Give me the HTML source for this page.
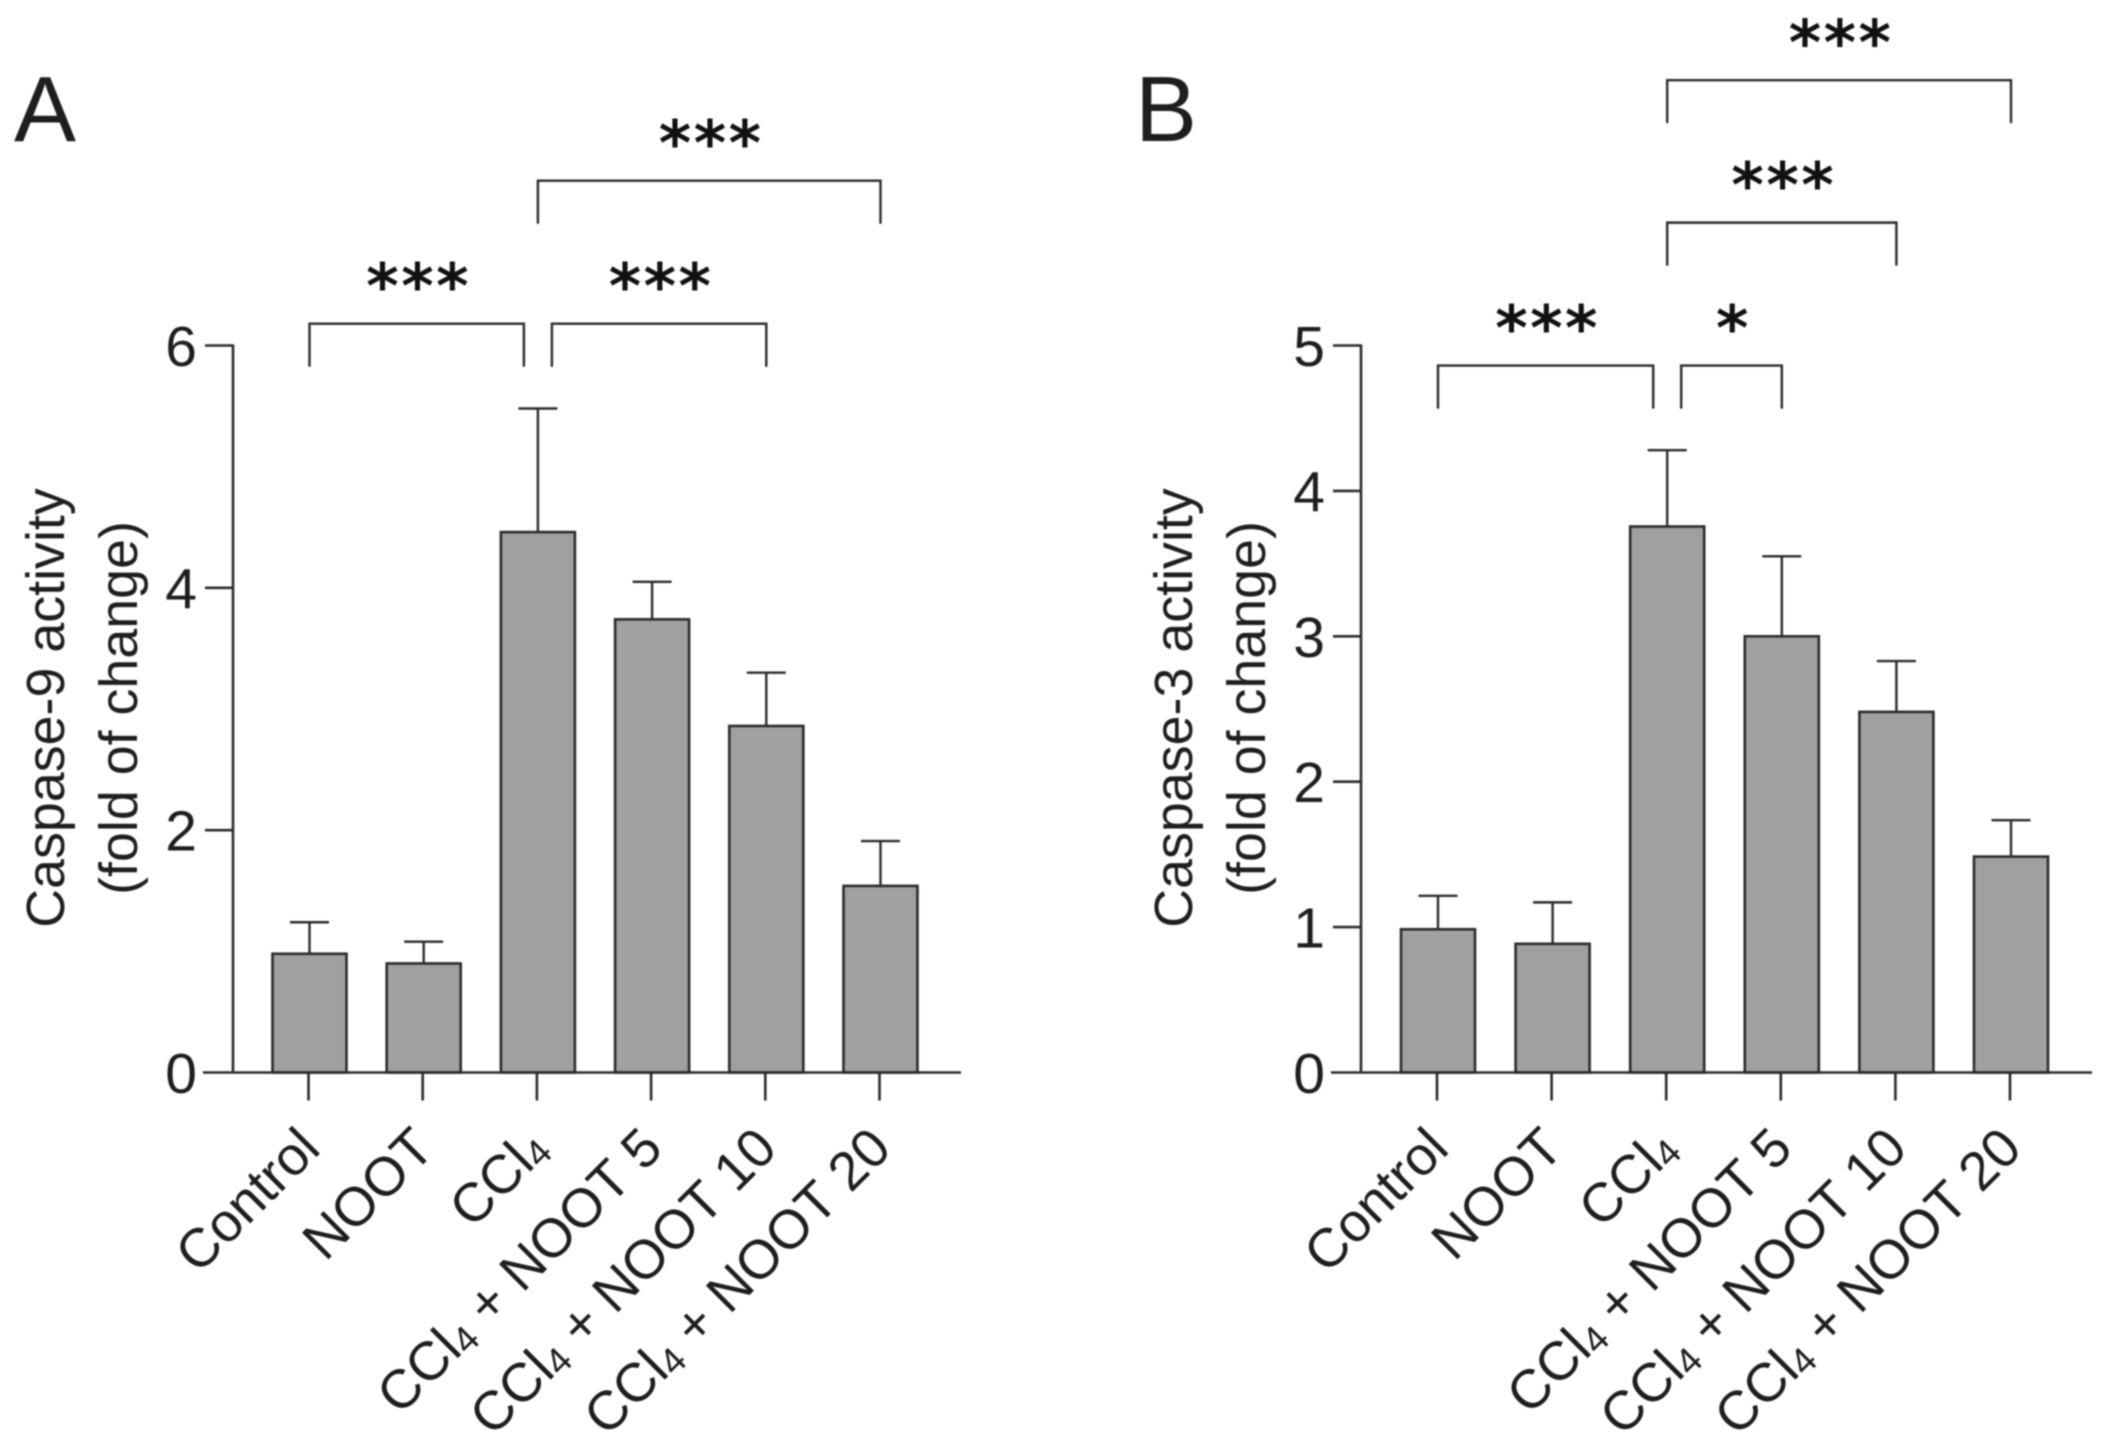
<!DOCTYPE html>
<html lang="en">
<head>
<meta charset="utf-8">
<title>Caspase activity bar charts</title>
<style>
html,body{margin:0;padding:0;background:#fff;width:2104px;height:1448px;overflow:hidden}
svg{display:block;filter:blur(0.7px)}
text{font-family:"Liberation Sans",sans-serif;fill:#1e1e1e}
</style>
</head>
<body>
<svg id="figure" xmlns="http://www.w3.org/2000/svg" width="2104" height="1448" viewBox="0 0 2104 1448">
<rect width="2104" height="1448" fill="#fff"/>
<text x="14" y="141" font-size="93">A</text>
<text x="1135" y="141" font-size="93">B</text>
<g font-size="53.8" text-anchor="middle">
<text transform="translate(64,708) rotate(-90)">Caspase-9 activity</text>
<text transform="translate(137,708) rotate(-90)">(fold of change)</text>
</g>
<g font-size="53.8" text-anchor="middle">
<text transform="translate(1192,708) rotate(-90)">Caspase-3 activity</text>
<text transform="translate(1265,708) rotate(-90)">(fold of change)</text>
</g>
</svg>
<script>
const categories = ['Control', 'NOOT', 'CCl4', 'CCl4 + NOOT 5', 'CCl4 + NOOT 10', 'CCl4 + NOOT 20'];

const caspase9Means = [0.98, 0.90, 4.46, 3.74, 2.86, 1.54];
const caspase9ErrorTops = [1.24, 1.08, 5.48, 4.05, 3.30, 1.91];
const caspase9Ticks = [0, 2, 4, 6];
const caspase9BracketFrom = [0, 2, 2];
const caspase9BracketTo = [2, 4, 5];
const caspase9BracketLevels = [6.18, 6.18, 7.36];
const caspase9BracketStars = ['***', '***', '***'];

const caspase3Means = [0.985, 0.885, 3.755, 3.00, 2.48, 1.485];
const caspase3ErrorTops = [1.215, 1.17, 4.28, 3.55, 2.83, 1.735];
const caspase3Ticks = [0, 1, 2, 3, 4, 5];
const caspase3BracketFrom = [0, 2, 2, 2];
const caspase3BracketTo = [2, 3, 4, 5];
const caspase3BracketLevels = [4.862, 4.862, 5.845, 6.825];
const caspase3BracketStars = ['***', '*', '***', '***'];

const NS = 'http://www.w3.org/2000/svg';
const STROKE = '#2b2b2b';
const BASE_Y = 1072.5;
const TOP_Y = 345.5;
const root = document.getElementById('figure');

function make(tag, parent) {
  const el = document.createElementNS(NS, tag);
  parent.appendChild(el);
  return el;
}
function line(parent, x1, y1, x2, y2, w) {
  const el = make('line', parent);
  el.setAttribute('x1', x1);
  el.setAttribute('y1', y1);
  el.setAttribute('x2', x2);
  el.setAttribute('y2', y2);
  el.setAttribute('stroke', STROKE);
  el.setAttribute('stroke-width', w);
  return el;
}

function drawPanel(p) {
  const g = make('g', root);
  
  
  const yMax = p.ticks[p.ticks.length - 1];
  const yScale = v => BASE_Y - (BASE_Y - TOP_Y) * v / yMax;
  const xScale = i => p.x0 + p.step * i;

  // bars and error bars
  p.means.forEach((m, i) => {
    const cx = xScale(i);
    const stem = line(g, cx, yScale(p.errTops[i]), cx, yScale(m), 2.4);
    
    
    const cap = line(g, cx - 19.5, yScale(p.errTops[i]), cx + 19.5, yScale(p.errTops[i]), 2.4);
    
    
    const bar = make('rect', g);
    
    
    bar.setAttribute('x', cx - 37);
    bar.setAttribute('y', yScale(m));
    bar.setAttribute('width', 74);
    bar.setAttribute('height', BASE_Y - yScale(m));
    bar.setAttribute('fill', '#a0a0a3');
    bar.setAttribute('stroke', STROKE);
    bar.setAttribute('stroke-width', 2.6);
  });

  // y axis
  const yAxis = line(g, p.axisX, TOP_Y - 1, p.axisX, BASE_Y, 2.6);
  
  
  p.ticks.forEach(t => {
    const y = yScale(t);
    if (t !== 0) {
      const tick = line(g, p.axisX - 28, y, p.axisX, y, 2.6);
      
      
    }
    const label = make('text', g);
    
    
    label.setAttribute('x', p.axisX - 36);
    label.setAttribute('y', y + 20.5);
    label.setAttribute('font-size', 57);
    label.setAttribute('text-anchor', 'end');
    label.textContent = String(t);
  });

  // x axis
  const xAxis = line(g, p.axisX - 30, BASE_Y, p.axisEnd, BASE_Y, 2.6);
  
  
  categories.forEach((c, i) => {
    const cx = xScale(i) - 1;
    const tick = line(g, cx, BASE_Y, cx, BASE_Y + 28, 2.6);
    
    
    const label = make('text', g);
    
    
    label.setAttribute('text-anchor', 'end');
    label.setAttribute('font-size', 54.5);
    label.setAttribute('transform', 'translate(' + (cx + 14) + ',1151) rotate(-45)');
    const parts = c.split('CCl4');
    if (parts.length === 1) {
      label.textContent = c;
    } else {
      const a = make('tspan', label);
      a.textContent = 'CCl';
      const sub = make('tspan', label);
      sub.setAttribute('font-size', 37);
      sub.setAttribute('dy', 5);
      sub.textContent = '4';
      if (parts[1]) {
        const rest = make('tspan', label);
        rest.setAttribute('dy', -5);
        rest.textContent = parts[1];
      }
    }
  });

  // significance brackets
  p.bFrom.forEach((from, i) => {
    const to = p.bTo[i];
    const y = yScale(p.bLevels[i]);
    const sharedLow = p.bLevels.filter(l => l === p.bLevels[i]).length > 1;
    const x1 = xScale(from) + (sharedLow && from === 2 ? 14 : 0);
    const x2 = xScale(to) - (sharedLow && to === 2 ? 14 : 0);
    const path = make('path', g);
    
    
    path.setAttribute('d', 'M' + x1 + ' ' + (y + 43) + 'V' + y + 'H' + x2 + 'V' + (y + 43));
    path.setAttribute('fill', 'none');
    path.setAttribute('stroke', STROKE);
    path.setAttribute('stroke-width', 2.4);
    const stars = make('text', g);
    
    
    stars.setAttribute('x', (x1 + x2) / 2 + 2);
    stars.setAttribute('y', y - 15.5);
    stars.setAttribute('text-anchor', 'middle');
    stars.setAttribute('font-size', 62);
    stars.setAttribute('font-weight', 'bold');
    stars.setAttribute('letter-spacing', '2.5');
    stars.setAttribute('style', 'font-family:"DejaVu Sans",sans-serif;fill:#111');
    stars.textContent = p.bStars[i];
  });
}

drawPanel({
  name: 'panel-a-chart', means: caspase9Means, errTops: caspase9ErrorTops, ticks: caspase9Ticks,
  bFrom: caspase9BracketFrom, bTo: caspase9BracketTo, bLevels: caspase9BracketLevels, bStars: caspase9BracketStars,
  x0: 309.5, step: 114.2, axisX: 233, axisEnd: 961
});
drawPanel({
  name: 'panel-b-chart', means: caspase3Means, errTops: caspase3ErrorTops, ticks: caspase3Ticks,
  bFrom: caspase3BracketFrom, bTo: caspase3BracketTo, bLevels: caspase3BracketLevels, bStars: caspase3BracketStars,
  x0: 1438, step: 114.6, axisX: 1361, axisEnd: 2092
});
</script>
</body>
</html>
